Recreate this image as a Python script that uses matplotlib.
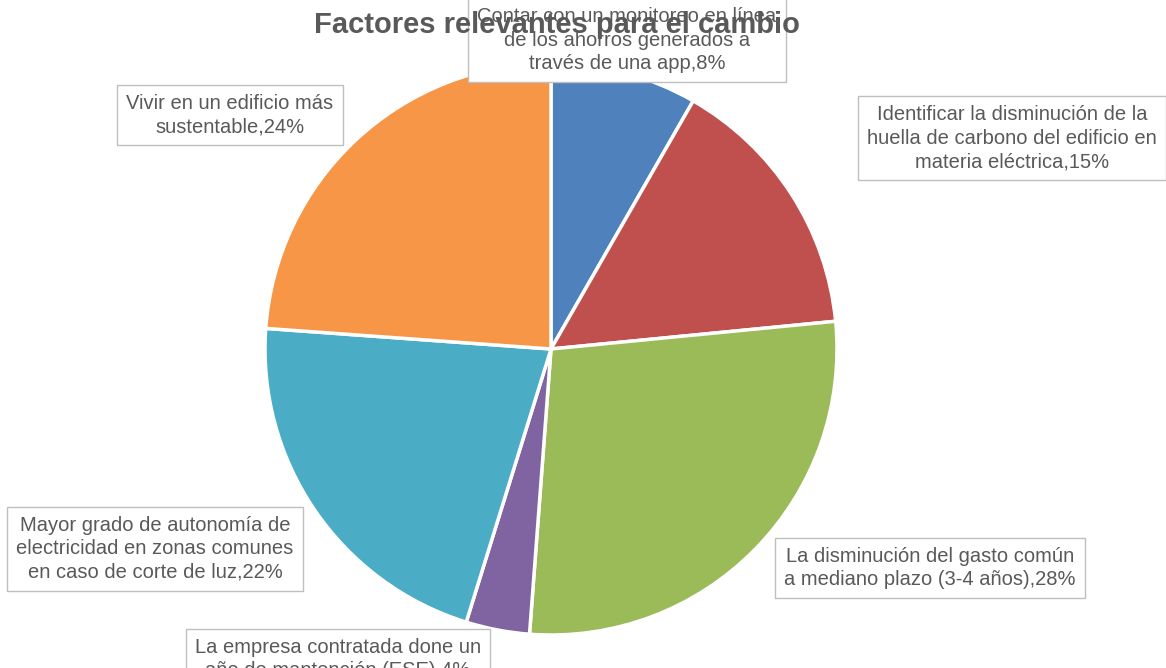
import numpy as np
import matplotlib
matplotlib.use("Agg")
import matplotlib.pyplot as plt

plt.rcParams['font.family'] = ['Liberation Sans', 'DejaVu Sans']

# datos del grafico (sentido horario desde arriba)
etiquetas = [
    "Contar con un monitoreo en línea\nde los ahorros generados a\ntravés de una app,8%",
    "Identificar la disminución de la\nhuella de carbono del edificio en\nmateria eléctrica,15%",
    "La disminución del gasto común\na mediano plazo (3-4 años),28%",
    "La empresa contratada done un\naño de mantención (ESE),4%",
    "Mayor grado de autonomía de\nelectricidad en zonas comunes\nen caso de corte de luz,22%",
    "Vivir en un edificio más\nsustentable,24%",
]
valores = [8.3, 15.2, 27.8, 3.6, 21.4, 23.9]
colores = ["#4F81BD", "#C0504D", "#9BBB59", "#8064A2", "#4BACC6", "#F79646"]

# posiciones de las etiquetas (pixeles, origen abajo-izquierda)
pos_etiquetas = [(627, 628), (1012, 530), (930, 100), (338, 9), (155, 119), (230, 553)]

fig = plt.figure(figsize=(11.66, 6.68), dpi=100)
ax = fig.add_axes([0, 0, 1, 1])

ax.pie(valores, colors=colores, startangle=90, counterclock=False,
       center=(551, 319), radius=286,
       wedgeprops=dict(edgecolor='white', linewidth=2.5))
ax.set_xlim(0, 1166)
ax.set_ylim(0, 668)
ax.set_aspect('equal')
ax.axis('off')

for txt, (x, y) in zip(etiquetas, pos_etiquetas):
    ax.text(x, y, txt, ha='center', va='center', fontsize=14.5, color='#595959',
            linespacing=1.3, zorder=5,
            bbox=dict(boxstyle='square,pad=0.45', facecolor='white',
                      edgecolor='#BFBFBF', linewidth=1))

ax.text(557, 643, "Factores relevantes para el cambio", ha='center', va='center',
        fontsize=21, fontweight='bold', color='#595959', zorder=6)

fig.savefig("out.png", dpi=100)
